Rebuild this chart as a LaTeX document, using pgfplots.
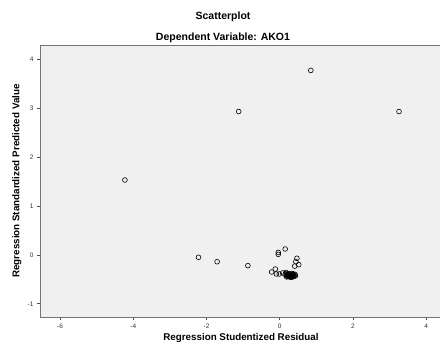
\documentclass[border=0pt]{standalone}
\usepackage{pgfplots}
\pgfplotsset{compat=1.18}
\usepackage{fontspec}
\setmainfont{Liberation Sans}
\begin{document}
\begin{tikzpicture}[x=1pt,y=1pt]
\useasboundingbox (0,0) rectangle (440,349);
\begin{axis}[
  at={(40pt,32pt)}, anchor=south west,
  scale only axis, width=400pt, height=272pt,
  xmin=-6.55, xmax=4.38, ymin=-1.27, ymax=4.29,
  axis lines*=left,
  axis background/.style={fill=black!6},
  axis line style={black!55, line width=0.8pt},
  xtick={-6,-4,-2,0,2,4}, ytick={-1,0,1,2,3,4},
  tick align=outside, major tick length=3pt,
  tick style={black!70, line width=0.6pt},
  tick label style={font=\fontsize{6.5}{7}\selectfont, text=black!80},
  /pgf/number format/assume math mode=true,
  xticklabels={-6,-4,-2,0,2,4}, yticklabels={-1,0,1,2,3,4},
  xlabel={\bfseries Regression Studentized Residual},
  ylabel={\bfseries Regression Standardized Predicted Value},
  label style={font=\fontsize{9.8}{11}\selectfont},
  xlabel style={at={(axis description cs:0.5025,0)}, anchor=north, yshift=-13pt},
  ylabel style={at={(axis description cs:0,0.5)}, anchor=south, yshift=15pt},
  clip=false,
]
\addplot[only marks, mark=o, mark size=2.4pt, mark options={line width=0.6pt, black}] coordinates {
(-4.23,1.53) (-1.12,2.93) (0.85,3.77) (3.26,2.93)
(-2.22,-0.05) (-1.71,-0.14) (-0.87,-0.22)
(-0.04,0.05) (-0.04,0.01) (0.15,0.12)
(0.47,-0.07) (0.44,-0.14) (0.52,-0.20) (0.41,-0.23)
(-0.12,-0.29) (-0.22,-0.35) (-0.09,-0.39) (-0.01,-0.39) (0.08,-0.37) (0.17,-0.36)
(0.15,-0.40) (0.18,-0.42) (0.20,-0.38) (0.22,-0.44) (0.24,-0.41) (0.26,-0.39)
(0.27,-0.45) (0.29,-0.42) (0.31,-0.46) (0.32,-0.40) (0.34,-0.43) (0.36,-0.41)
(0.38,-0.44) (0.40,-0.42) (0.42,-0.40) (0.43,-0.43) (0.25,-0.43) (0.30,-0.44)
(0.35,-0.45) (0.21,-0.41) (0.33,-0.38) (0.28,-0.40) (0.19,-0.45) (0.37,-0.39)
};
\draw[black!55, line width=0.8pt] (rel axis cs:0,1) -- (rel axis cs:1,1);
\node[font=\bfseries\fontsize{10.5}{12}\selectfont, anchor=base] at (rel axis cs:0.4575,1) [yshift=25pt] {Scatterplot};
\node[font=\bfseries\fontsize{10.5}{12}\selectfont, anchor=base] at (rel axis cs:0.4575,1) [yshift=4pt] {Dependent Variable: AKO1};
\end{axis}
\end{tikzpicture}
\end{document}
